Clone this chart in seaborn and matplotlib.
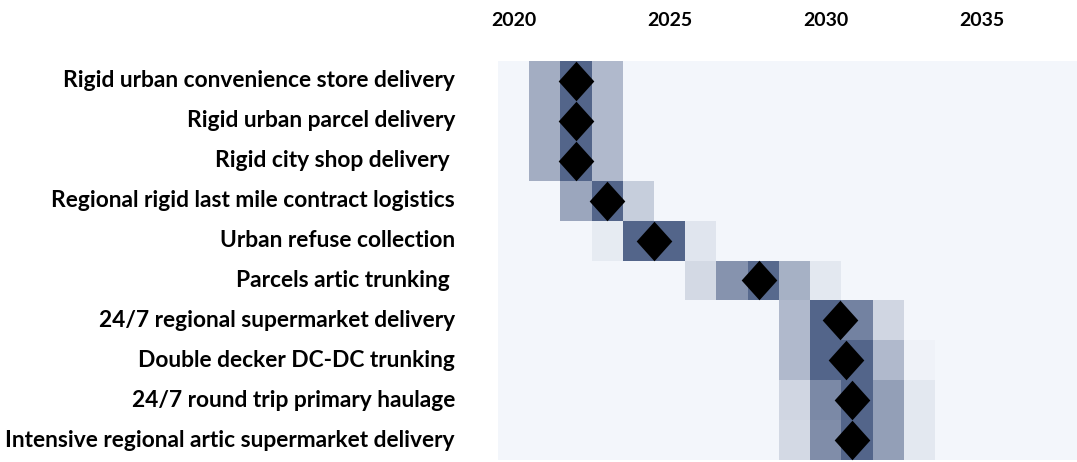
import numpy as np
import seaborn as sns
import matplotlib.pyplot as plt
from matplotlib.colors import LinearSegmentedColormap

# ---------------------------------------------------------------------- #
categories = ["Rigid urban convenience store delivery",
              "Rigid urban parcel delivery",
              "Rigid city shop delivery ",
              "Regional rigid last mile contract logistics",
              "Urban refuse collection",
              "Parcels artic trunking ",
              "24/7 regional supermarket delivery",
              "Double decker DC-DC trunking",
              "24/7 round trip primary haulage",
              "Intensive regional artic supermarket delivery"]

years = list(range(2020, 2039))
tick_years = [2020, 2025, 2030, 2035]

# first year with a shaded cell, then the shading of each following year
first_year = [2021, 2021, 2021, 2022, 2023, 2026, 2029, 2029, 2029, 2029]
weights = [[0.50, 1.00, 0.42],
           [0.50, 1.00, 0.42],
           [0.50, 1.00, 0.42],
           [0.55, 1.00, 0.28],
           [0.08, 1.00, 1.00, 0.12],
           [0.20, 0.68, 0.97, 0.48, 0.10],
           [0.42, 1.00, 0.80, 0.22],
           [0.42, 1.00, 1.00, 0.42, 0.03],
           [0.22, 0.75, 1.00, 0.60, 0.10],
           [0.20, 0.72, 1.00, 0.60, 0.10]]

# central estimate (diamond)
central_year = [2022, 2022, 2022, 2023, 2024.5, 2027.85,
                2030.45, 2030.65, 2030.85, 2030.85]


def main():
    grid = np.zeros((len(categories), len(years)))
    for i, (y0, w) in enumerate(zip(first_year, weights)):
        j = years.index(y0)
        grid[i, j:j + len(w)] = w

    cmap = LinearSegmentedColormap.from_list("slate", ["#f3f6fb", "#53658a"])

    fig = plt.figure(figsize=(10.77, 4.62), dpi=100)
    ax = fig.add_axes([498 / 1077, 2 / 462, 1 - 498 / 1077, 399 / 462])

    sns.heatmap(grid, cmap=cmap, vmin=0, vmax=1, cbar=False, ax=ax,
                xticklabels=False, yticklabels=categories)

    # diamonds
    diamond = [(0, 1), (0.9, 0), (0, -1), (-0.9, 0), (0, 1)]
    xs = [c - years[0] + 0.5 for c in central_year]
    ys = np.arange(len(categories)) + 0.5
    ax.scatter(xs, ys, marker=diamond, s=28.5 ** 2, color="black",
               linewidths=0, zorder=5)

    ax.set_xlim(0, 18.55)
    ax.set_ylim(len(categories), 0)

    ax.xaxis.tick_top()
    ax.set_xticks([t - years[0] + 0.5 for t in tick_years])
    ax.set_xticklabels([str(t) for t in tick_years], fontsize=14,
                       fontweight="bold", family="Lato")
    ax.tick_params(axis="x", length=0, pad=23)
    ax.tick_params(axis="y", length=0, pad=31)
    for lab in ax.get_yticklabels():
        lab.set_rotation(0)
        lab.set_fontsize(16.4)
        lab.set_fontweight("bold")
        lab.set_family("Lato")

    fig.savefig("out.png", dpi=100)


if __name__ == "__main__":
    main()
